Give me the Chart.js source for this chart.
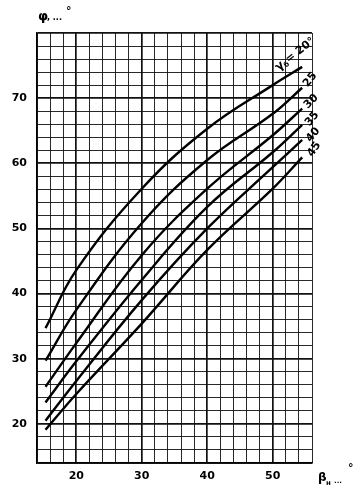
<!DOCTYPE html>
<html>
<head>
<meta charset="utf-8">
<script src="https://cdn.jsdelivr.net/npm/chart.js@4.4.0/dist/chart.umd.min.js"></script>
<style>
    html, body { margin: 0; padding: 0; background: #fff; }
    #wrap { width: 364px; height: 492px; position: relative; }
</style>
</head>
<body>
<div id="wrap"><canvas id="chart"></canvas></div>
<script>
const betaValues = [15.3, 20, 30, 40, 50, 54.5];
// phi for each gamma curve
const phiGamma20 = [34.7, 43.6, 56.1, 65.3, 72.0, 74.8];
const phiGamma25 = [29.7, 37.5, 50.8, 60.5, 67.6, 71.6];
const phiGamma30 = [25.7, 32.4, 45.9, 56.1, 64.3, 68.4];
const phiGamma35 = [23.3, 29.6, 42.1, 53.3, 61.7, 65.9];
const phiGamma40 = [20.5, 26.6, 39.0, 50.0, 59.4, 63.6];
const phiGamma45 = [19.1, 24.6, 35.4, 46.7, 56.1, 60.9];
const curveLabels = ['20°', '25', '30', '35', '40', '45'];
const xTickLabels = [20, 30, 40, 50];
const yTickLabels = [20, 30, 40, 50, 60, 70];

const series = [phiGamma20, phiGamma25, phiGamma30, phiGamma35, phiGamma40, phiGamma45];

const datasets = series.map((phi, i) => ({
    label: curveLabels[i],
    data: betaValues.map((b, j) => ({ x: b, y: phi[j] })),
    borderColor: '#000',
    borderWidth: 2.4,
    pointRadius: 0,
    tension: 0.4,
    fill: false
}));

// label offsets from the curve ends (px) and rotation
const labelPos = [
    { dx: -9, dy: -11, rot: -38 },
    { dx: 8, dy: -8, rot: -50 },
    { dx: 9, dy: -7, rot: -45 },
    { dx: 10, dy: -6, rot: -50 },
    { dx: 11, dy: -5, rot: -50 },
    { dx: 12, dy: -8, rot: -55 }
];

const gridWidth = (ctx) => (ctx.tick && ctx.tick.value % 10 === 0) ? 1.7 : 0.9;

const textPlugin = {
    id: 'textPlugin',
    afterDatasetsDraw(chart) {
        const ctx = chart.ctx;
        ctx.save();
        ctx.fillStyle = '#000';
        ctx.textAlign = 'center';
        ctx.textBaseline = 'middle';
        chart.data.datasets.forEach((ds, i) => {
            const meta = chart.getDatasetMeta(i);
            const last = meta.data[meta.data.length - 1];
            const p = labelPos[i];
            ctx.save();
            ctx.translate(last.x + p.dx, last.y + p.dy);
            ctx.rotate(p.rot * Math.PI / 180);
            if (i === 0) {
                ctx.font = 'bold 12px "DejaVu Sans"';
                ctx.textAlign = 'left';
                ctx.fillText('γ', -21, 0);
                ctx.font = 'bold 7px "DejaVu Sans"';
                ctx.fillText('б', -13, 3);
                ctx.font = 'bold 11px "DejaVu Sans"';
                ctx.fillText('= ' + ds.label, -8, 0);
            } else {
                ctx.font = 'bold 11px "DejaVu Sans"';
                ctx.fillText(ds.label, 0, 0);
            }
            ctx.restore();
        });

        // axis titles
        ctx.textAlign = 'left';
        ctx.textBaseline = 'alphabetic';
        ctx.font = 'bold 13px "DejaVu Sans"';
        ctx.fillText('φ', 38, 20);
        ctx.font = 'bold 8px "DejaVu Sans"';
        ctx.fillText(', ...', 47, 20);
        ctx.font = 'bold 11px "DejaVu Sans"';
        ctx.fillText('°', 66, 14);

        ctx.font = 'bold 12px "DejaVu Sans"';
        ctx.fillText('β', 318, 481);
        ctx.font = 'bold 7px "DejaVu Sans"';
        ctx.fillText('н', 326, 485);
        ctx.fillText('...', 334, 483);
        ctx.font = 'bold 11px "DejaVu Sans"';
        ctx.fillText('°', 348, 471);
        ctx.restore();
    }
};

const ctx = document.getElementById('chart');
new Chart(ctx, {
    type: 'line',
    data: { datasets: datasets },
    options: {
        responsive: true,
        maintainAspectRatio: false,
        animation: false,
        layout: { padding: { top: 33, right: 52, left: 0, bottom: 0 } },
        plugins: {
            legend: { display: false },
            tooltip: { enabled: false }
        },
        scales: {
            x: {
                type: 'linear',
                min: 14,
                max: 56,
                afterFit: (scale) => { scale.height = 29; },
                grid: {
                    color: '#111',
                    lineWidth: gridWidth,
                    drawTicks: false
                },
                border: { color: '#000', width: 1.5 },
                ticks: {
                    stepSize: 2,
                    autoSkip: false,
                    maxRotation: 0,
                    padding: 7,
                    color: '#000',
                    font: { family: 'DejaVu Sans', size: 11, weight: 'bold' },
                    callback: (v) => xTickLabels.includes(v) ? String(v) : ''
                }
            },
            y: {
                type: 'linear',
                min: 14,
                max: 80,
                afterFit: (scale) => { scale.width = 37; },
                grid: {
                    color: '#111',
                    lineWidth: gridWidth,
                    drawTicks: false
                },
                border: { color: '#000', width: 1.5 },
                ticks: {
                    stepSize: 2,
                    autoSkip: false,
                    padding: 10,
                    color: '#000',
                    font: { family: 'DejaVu Sans', size: 11, weight: 'bold' },
                    callback: (v) => yTickLabels.includes(v) ? String(v) : ''
                }
            }
        }
    },
    plugins: [textPlugin]
});
</script>
</body>
</html>
